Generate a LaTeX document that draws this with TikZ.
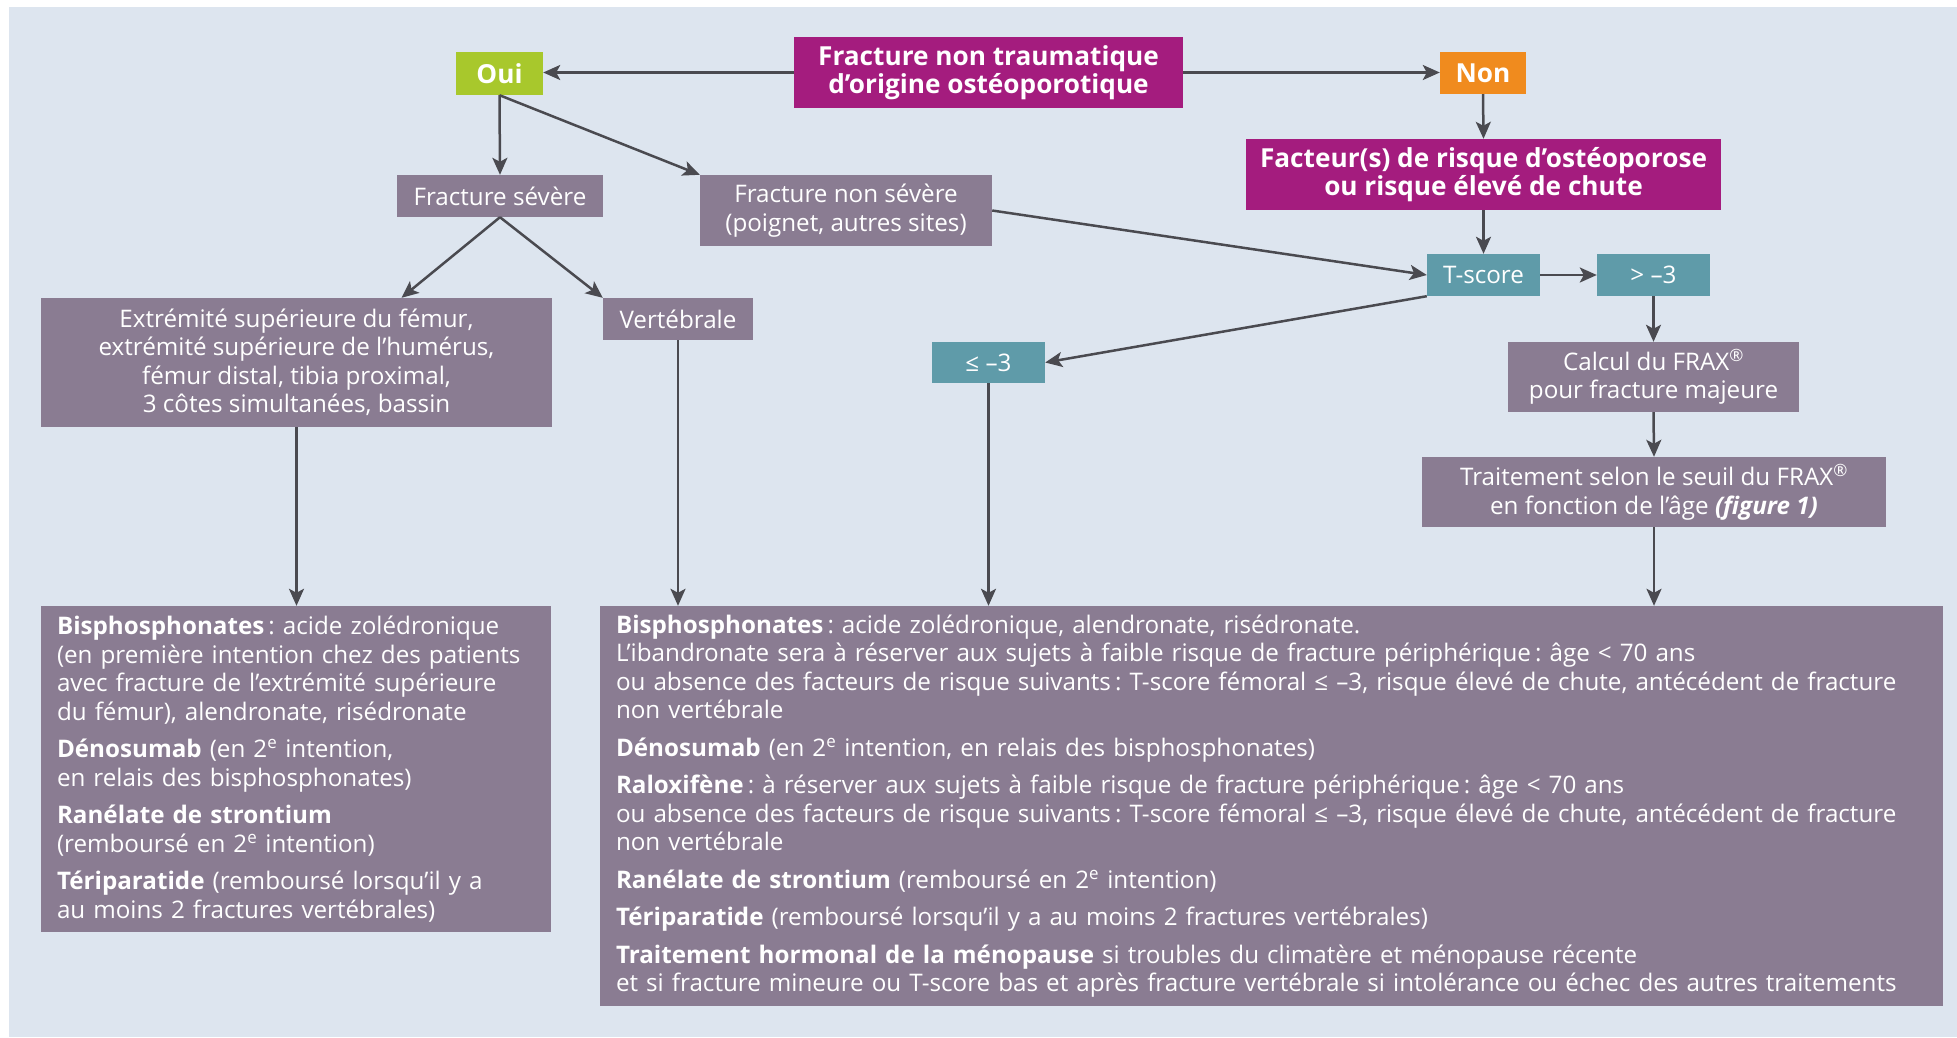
\documentclass[tikz,border=0pt]{standalone}
\usepackage{fontspec}
\setmainfont{Open Sans}
\usetikzlibrary{arrows.meta,calc}
\frenchspacing

\definecolor{bgc}{HTML}{DDE5EF}
\definecolor{mauvec}{HTML}{8A7C92}
\definecolor{magc}{HTML}{A41C7E}
\definecolor{greenc}{HTML}{A8C82C}
\definecolor{orangec}{HTML}{F08B1E}
\definecolor{tealc}{HTML}{5F9BA9}
\definecolor{arrc}{HTML}{4A4A50}

\begin{document}
\begin{tikzpicture}[x=1pt,y=-1pt,
  txt/.style={font=\fontsize{24.2}{28.5}\selectfont},
  box/.style={txt, inner sep=0pt, text=white, align=center},
  mauvebox/.style={box, fill=mauvec},
  headfont/.style={font=\fontsize{26.2}{28.5}\selectfont\bfseries},
  magbox/.style={box, fill=magc, headfont},
  tealbox/.style={box, fill=tealc},
  listbox/.style={mauvebox, align=left, inner xsep=16pt, inner ysep=0pt},
  arr/.style={draw=arrc, line width=2.5pt, -{Stealth[length=17pt,width=15pt,inset=4pt]}}
]
\useasboundingbox (0,0) rectangle (1957,1037);
\fill[white] (0,0) rectangle (1957,1037);
\fill[bgc] (9,7) rectangle (1957,1037);

% decision header
\node[magbox, minimum width=389pt, minimum height=71pt] (main) at (988.5,72.5)
  {Fracture non traumatique\\d’origine ostéoporotique};
\node[box, fill=greenc, headfont,
  minimum width=87pt, minimum height=43pt] (oui) at (499.5,73.5) {Oui};
\node[box, fill=orangec, headfont,
  minimum width=86pt, minimum height=42pt] (non) at (1483,73) {Non};

% "Oui" branch
\node[mauvebox, minimum width=206pt, minimum height=42pt] (fsev) at (500,196)
  {Fracture sévère};
\node[mauvebox, minimum width=292pt, minimum height=71pt] (fnsev) at (846,210.5)
  {Fracture non sévère\\(poignet, autres sites)};
\node[mauvebox, minimum width=511pt, minimum height=129pt] (extr) at (296.5,362.5)
  {Extrémité supérieure du fémur,\\extrémité supérieure de l’humérus,\\fémur distal, tibia proximal,\\3 côtes simultanées, bassin};
\node[mauvebox, minimum width=150pt, minimum height=42pt] (vert) at (678,319)
  {Vertébrale};

% "Non" branch
\node[magbox, minimum width=475pt, minimum height=71pt] (fact) at (1483.5,174.5)
  {Facteur(s) de risque d’ostéoporose\\ou risque élevé de chute};
\node[tealbox, minimum width=113pt, minimum height=42pt] (tsc) at (1483.5,275) {T-score};
\node[tealbox, minimum width=113pt, minimum height=42pt] (gt) at (1653.5,275) {>~–3};
\node[tealbox, minimum width=113pt, minimum height=41pt] (le) at (988.5,362.5) {≤~–3};
\node[mauvebox, minimum width=291pt, minimum height=70pt] (calc) at (1653.5,377)
  {Calcul du FRAX\textsuperscript{®}\\pour fracture majeure};
\node[mauvebox, minimum width=464pt, minimum height=70pt] (trait) at (1654,492)
  {Traitement selon le seuil du FRAX\textsuperscript{®}\\en fonction de l’âge \textbf{\textit{(figure 1)}}};

% treatment lists
\node[listbox, text width=478pt, minimum height=326pt] (lbox) at (296,769) {%
\textbf{Bisphosphonates}\,: acide zolédronique\\
(en première intention chez des patients\\
avec fracture de l’extrémité supérieure\\
du fémur), alendronate, risédronate\\[9pt]
\textbf{Dénosumab} (en 2\textsuperscript{e} intention,\\
en relais des bisphosphonates)\\[9pt]
\textbf{Ranélate de strontium}\\
(remboursé en 2\textsuperscript{e} intention)\\[9pt]
\textbf{Tériparatide} (remboursé lorsqu’il y a\\
au moins 2 fractures vertébrales)};

\node[listbox, text width=1311pt, minimum height=400pt] (rbox) at (1271.5,806) {%
\textbf{Bisphosphonates}\,: acide zolédronique, alendronate, risédronate.\\
L’ibandronate sera à réserver aux sujets à faible risque de fracture périphérique\,: âge < 70 ans\\
ou absence des facteurs de risque suivants\,: T-score fémoral ≤~–3, risque élevé de chute, antécédent de fracture\\
non vertébrale\\[9pt]
\textbf{Dénosumab} (en 2\textsuperscript{e} intention, en relais des bisphosphonates)\\[9pt]
\textbf{Raloxifène}\,: à réserver aux sujets à faible risque de fracture périphérique\,: âge < 70 ans\\
ou absence des facteurs de risque suivants\,: T-score fémoral ≤~–3, risque élevé de chute, antécédent de fracture\\
non vertébrale\\[9pt]
\textbf{Ranélate de strontium} (remboursé en 2\textsuperscript{e} intention)\\[9pt]
\textbf{Tériparatide} (remboursé lorsqu’il y a au moins 2 fractures vertébrales)\\[9pt]
\textbf{Traitement hormonal de la ménopause} si troubles du climatère et ménopause récente\\
et si fracture mineure ou T-score bas et après fracture vertébrale si intolérance ou échec des autres traitements};

% connectors
\draw[arr] (main.west) -- (main.west -| oui.east);
\draw[arr] (main.east) -- (main.east -| non.west);
\draw[arr] (oui.south) -- (fsev.north);
\draw[arr] (oui.south) -- (fnsev.north west);
\draw[arr] (fsev.south) -- ([xshift=105pt]extr.north);
\draw[arr] (fsev.south) -- (vert.north west);
\draw[arr] (non.south) -- (fact.north);
\draw[arr] (fact.south) -- (tsc.north);
\draw[arr] (fnsev.east) -- (tsc.west);
\draw[arr] (tsc.east) -- (gt.west);
\draw[arr] (tsc.south west) -- (le.east);
\draw[arr] (gt.south) -- (calc.north);
\draw[arr] (calc.south) -- (trait.north);
\draw[arr] (extr.south) -- (extr.south |- lbox.north);
\draw[arr] (vert.south) -- (vert.south |- rbox.north);
\draw[arr] (le.south) -- (le.south |- rbox.north);
\draw[arr] (trait.south) -- (trait.south |- rbox.north);
\end{tikzpicture}
\end{document}
